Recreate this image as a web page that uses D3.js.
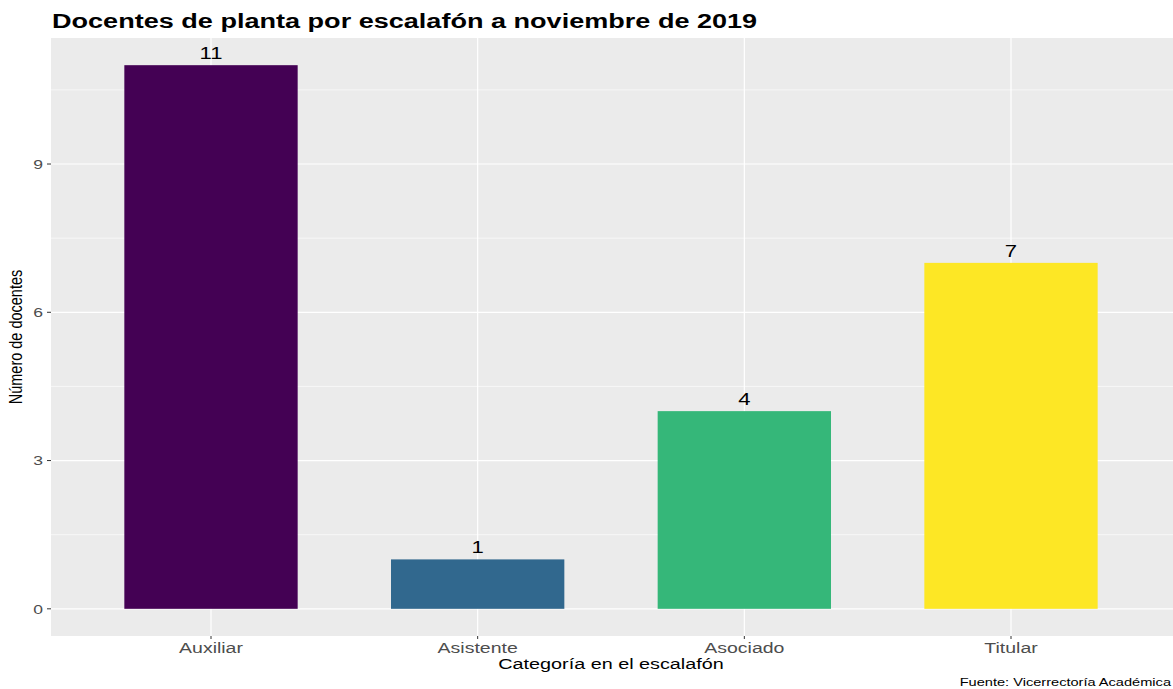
<!DOCTYPE html>
<html>
<head>
<meta charset="utf-8">
<script src="https://cdn.jsdelivr.net/npm/d3@7"></script>
<style>
  html, body { margin: 0; padding: 0; background: #fff; }
  svg { display: block; }
</style>
</head>
<body>
<svg id="chart" width="1173" height="689"></svg>
<script>
// Faculty counts by rank
const categories = ["Auxiliar", "Asistente", "Asociado", "Titular"];
const counts = [11, 1, 4, 7];
const barColors = ["#440154", "#31688E", "#35B779", "#FDE725"];
const yTicks = [0, 3, 6, 9];
const yMinorTicks = [1.5, 4.5, 7.5, 10.5];

const panel = { left: 51, top: 38, right: 1173, bottom: 636 };
// text is drawn horizontally widened
const STRETCH = 1.3;

const svg = d3.select("#chart");
const font = "'Liberation Sans', Arial, sans-serif";

// place a text element at (x, y) with horizontal widening
function placeText(sel, x, y, s = STRETCH, extra = "") {
  sel.attr("transform", (d, i) => {
    const xx = typeof x === "function" ? x(d, i) : x;
    const yy = typeof y === "function" ? y(d, i) : y;
    return `translate(${xx},${yy}) scale(${s},1)${extra}`;
  });
  return sel;
}

// ggplot-style continuous scale with 5% expansion
const yMax = d3.max(counts);
const y = d3.scaleLinear()
  .domain([-yMax * 0.05, yMax * 1.05])
  .range([panel.bottom, panel.top]);

// discrete axis with 0.6 units of padding on each side
const xPos = d3.scaleLinear()
  .domain([0.4, categories.length + 0.6])
  .range([panel.left, 1171]);
const barWidth = 0.65;

// panel background
svg.append("rect")
  .attr("x", panel.left).attr("y", panel.top)
  .attr("width", panel.right - panel.left)
  .attr("height", panel.bottom - panel.top)
  .attr("fill", "#EBEBEB");

// minor gridlines
svg.append("g").selectAll("line").data(yMinorTicks).join("line")
  .attr("x1", panel.left).attr("x2", panel.right)
  .attr("y1", d => y(d)).attr("y2", d => y(d))
  .attr("stroke", "#fff").attr("stroke-width", 0.6);

// major gridlines
svg.append("g").selectAll("line").data(yTicks).join("line")
  .attr("x1", panel.left).attr("x2", panel.right)
  .attr("y1", d => y(d)).attr("y2", d => y(d))
  .attr("stroke", "#fff").attr("stroke-width", 1.2);

svg.append("g").selectAll("line").data(categories).join("line")
  .attr("x1", (d, i) => xPos(i + 1)).attr("x2", (d, i) => xPos(i + 1))
  .attr("y1", panel.top).attr("y2", panel.bottom)
  .attr("stroke", "#fff").attr("stroke-width", 1.2);

// bars
svg.append("g").selectAll("rect").data(counts).join("rect")
  .attr("x", (d, i) => xPos(i + 1 - barWidth / 2))
  .attr("width", (d, i) => xPos(i + 1 + barWidth / 2) - xPos(i + 1 - barWidth / 2))
  .attr("y", d => y(d))
  .attr("height", d => y(0) - y(d))
  .attr("fill", (d, i) => barColors[i]);

// value labels
placeText(
  svg.append("g").selectAll("text").data(counts).join("text")
    .attr("text-anchor", "middle")
    .attr("font-family", font)
    .attr("font-size", 17)
    .attr("fill", "#000")
    .text(d => d),
  (d, i) => xPos(i + 1), d => y(d) - 6);

// y axis ticks and labels
const yAxis = svg.append("g");
yAxis.selectAll("line").data(yTicks).join("line")
  .attr("x1", panel.left - 4).attr("x2", panel.left)
  .attr("y1", d => y(d)).attr("y2", d => y(d))
  .attr("stroke", "#333").attr("stroke-width", 1);
placeText(
  yAxis.selectAll("text").data(yTicks).join("text")
    .attr("dy", "0.36em")
    .attr("text-anchor", "end")
    .attr("font-family", font)
    .attr("font-size", 13.5)
    .attr("fill", "#4D4D4D")
    .text(d => d),
  panel.left - 8, d => y(d));

// x axis ticks and labels
const xAxis = svg.append("g");
xAxis.selectAll("line").data(categories).join("line")
  .attr("x1", (d, i) => xPos(i + 1)).attr("x2", (d, i) => xPos(i + 1))
  .attr("y1", panel.bottom).attr("y2", panel.bottom + 3)
  .attr("stroke", "#333").attr("stroke-width", 1);
placeText(
  xAxis.selectAll("text").data(categories).join("text")
    .attr("text-anchor", "middle")
    .attr("font-family", font)
    .attr("font-size", 15)
    .attr("fill", "#4D4D4D")
    .text(d => d),
  (d, i) => xPos(i + 1), 653);

// axis titles
placeText(
  svg.append("text")
    .attr("text-anchor", "middle")
    .attr("font-family", font)
    .attr("font-size", 15)
    .attr("fill", "#000")
    .text("Categoría en el escalafón"),
  (panel.left + panel.right) / 2 - 1, 669, 1.32);

placeText(
  svg.append("text")
    .attr("text-anchor", "middle")
    .attr("font-family", font)
    .attr("font-size", 14.5)
    .attr("fill", "#000")
    .text("Número de docentes"),
  22, (panel.top + panel.bottom) / 2, STRETCH, " rotate(-90)");

// title
placeText(
  svg.append("text")
    .attr("font-family", font)
    .attr("font-weight", "bold")
    .attr("font-size", 20.5)
    .attr("fill", "#000")
    .text("Docentes de planta por escalafón a noviembre de 2019"),
  52, 28, 1.32);

// caption
placeText(
  svg.append("text")
    .attr("text-anchor", "end")
    .attr("font-family", font)
    .attr("font-size", 11.5)
    .attr("fill", "#000")
    .text("Fuente: Vicerrectoría Académica"),
  1171, 686, 1.27);
</script>
</body>
</html>
